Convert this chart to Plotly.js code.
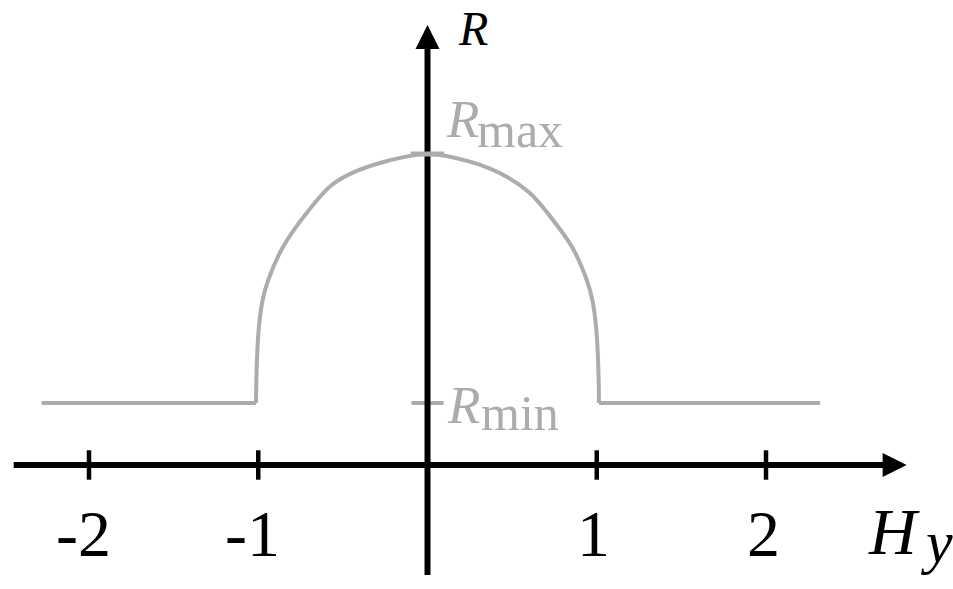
<!DOCTYPE html>
<html>
<head>
<meta charset="utf-8">
<script src="https://cdn.plot.ly/plotly-3.0.1.min.js"></script>
<style>html,body{margin:0;padding:0;background:#fff;}#chart{width:953px;height:589px;}</style>
</head>
<body>
<div id="chart"></div>
<script>
// ---- data (Hy in field units, R in arbitrary units) ----
const R_MIN = 0.366;
const R_MAX = 1.838;
const flatLeftHy  = [-2.28, -1.013];
const flatLeftR   = [R_MIN, R_MIN];
const domeHy = [-1.013, -1.012, -1.006, -0.996, -0.974, -0.941, -0.854, -0.714, -0.566, -0.428, -0.232, 0,
                0.251, 0.468, 0.606, 0.724, 0.854, 0.941, 0.974, 0.996, 1.006, 1.012, 1.013];
const domeR  = [R_MIN, 0.463, 0.660, 0.817, 0.975, 1.093, 1.288, 1.489, 1.654, 1.733, 1.798, R_MAX,
                1.792, 1.703, 1.605, 1.470, 1.288, 1.093, 0.975, 0.817, 0.660, 0.463, R_MIN];
const flatRightHy = [1.013, 2.32];
const flatRightR  = [R_MIN, R_MIN];
const tickVals = [-2, -1, 1, 2];
const tickText = ['-2', '-1', '1', '2'];
const xAxisExtent = [-2.445, 2.70];
const yAxisExtent = [-0.65, 2.48];
const xArrowTip = 2.831;
const yArrowTip = 2.60;

// ---- styling ----
const GRAY = '#afabab';
const SERIF = '"Liberation Serif", "Times New Roman", serif';
const W = 953, H = 589, X0 = 427.5, Y0 = 465, U = 169.25;
const dx = px => (px - X0) / U;
const dy = py => (Y0 - py) / U;

const traces = [
  // Rmin marker (under the axis)
  {x: [0], y: [R_MIN], mode: 'markers', hoverinfo: 'skip',
   marker: {symbol: 'line-ew', size: 23, line: {color: GRAY, width: 4}}},
  // axes lines
  {x: xAxisExtent, y: [0, 0], mode: 'lines', hoverinfo: 'skip', line: {color: '#000', width: 6}},
  {x: [0, 0], y: yAxisExtent, mode: 'lines', hoverinfo: 'skip', line: {color: '#000', width: 6}},
  // curve
  {x: flatLeftHy, y: flatLeftR, mode: 'lines', hoverinfo: 'skip', line: {color: GRAY, width: 4}},
  {x: domeHy, y: domeR, mode: 'lines', hoverinfo: 'skip', line: {color: GRAY, width: 4, shape: 'spline', smoothing: 1}},
  {x: flatRightHy, y: flatRightR, mode: 'lines', hoverinfo: 'skip', line: {color: GRAY, width: 4}},
  // Rmax marker
  {x: [0], y: [R_MAX], mode: 'markers', hoverinfo: 'skip',
   marker: {symbol: 'line-ew', size: 24, line: {color: GRAY, width: 5}}},
  // x ticks
  {x: tickVals, y: tickVals.map(() => 0), mode: 'markers', hoverinfo: 'skip',
   marker: {symbol: 'line-ns', size: 21, line: {color: '#000', width: 4.5}}}
];

const annotations = [
  // arrow heads
  {x: xArrowTip, y: 0, ax: xArrowTip - 0.1, ay: 0, axref: 'x', ayref: 'y', xref: 'x', yref: 'y',
   text: '', showarrow: true, arrowhead: 2, arrowsize: 0.8, arrowwidth: 6, arrowcolor: '#000'},
  {x: 0, y: yArrowTip, ax: 0, ay: yArrowTip - 0.1, axref: 'x', ayref: 'y', xref: 'x', yref: 'y',
   text: '', showarrow: true, arrowhead: 2, arrowsize: 0.8, arrowwidth: 6, arrowcolor: '#000'},
];
// tick labels
tickVals.forEach((v, i) => annotations.push({
  x: v, y: dy(533), xref: 'x', yref: 'y', text: tickText[i], showarrow: false,
  xanchor: 'center', yanchor: 'middle', xshift: v < 0 ? -6 : -3,
  font: {family: SERIF, size: 66, color: '#000'}
}));
// axis titles and level labels
annotations.push(
  {x: dx(473), y: dy(28), xref: 'x', yref: 'y', text: '<i>R</i>', showarrow: false,
   xanchor: 'center', yanchor: 'middle', font: {family: SERIF, size: 48, color: '#000'}},
  {x: dx(866), y: dy(531), xref: 'x', yref: 'y', text: '<i>H</i>', showarrow: false,
   xanchor: 'left', yanchor: 'middle', font: {family: SERIF, size: 66, color: '#000'}},
  {x: dx(918), y: dy(542), xref: 'x', yref: 'y', text: '<i>y</i>', showarrow: false,
   xanchor: 'left', yanchor: 'middle', font: {family: SERIF, size: 60, color: '#000'}},
  {x: dx(444), y: dy(119), xref: 'x', yref: 'y', text: '<i>R</i>', showarrow: false,
   xanchor: 'left', yanchor: 'middle', font: {family: SERIF, size: 53, color: GRAY}},
  {x: dx(475), y: dy(130), xref: 'x', yref: 'y', text: 'max', showarrow: false,
   xanchor: 'left', yanchor: 'middle', font: {family: SERIF, size: 50, color: GRAY}},
  {x: dx(445), y: dy(405), xref: 'x', yref: 'y', text: '<i>R</i>', showarrow: false,
   xanchor: 'left', yanchor: 'middle', font: {family: SERIF, size: 53, color: GRAY}},
  {x: dx(479), y: dy(413), xref: 'x', yref: 'y', text: 'min', showarrow: false,
   xanchor: 'left', yanchor: 'middle', font: {family: SERIF, size: 50, color: GRAY}}
);

const layout = {
  width: W, height: H,
  margin: {l: 0, r: 0, t: 0, b: 0, pad: 0},
  paper_bgcolor: '#fff', plot_bgcolor: '#fff',
  showlegend: false,
  xaxis: {range: [dx(0), dx(W)], visible: false, fixedrange: true},
  yaxis: {range: [dy(H), dy(0)], visible: false, fixedrange: true},
  annotations: annotations
};

Plotly.newPlot('chart', traces, layout, {staticPlot: true, displayModeBar: false});
</script>
</body>
</html>
